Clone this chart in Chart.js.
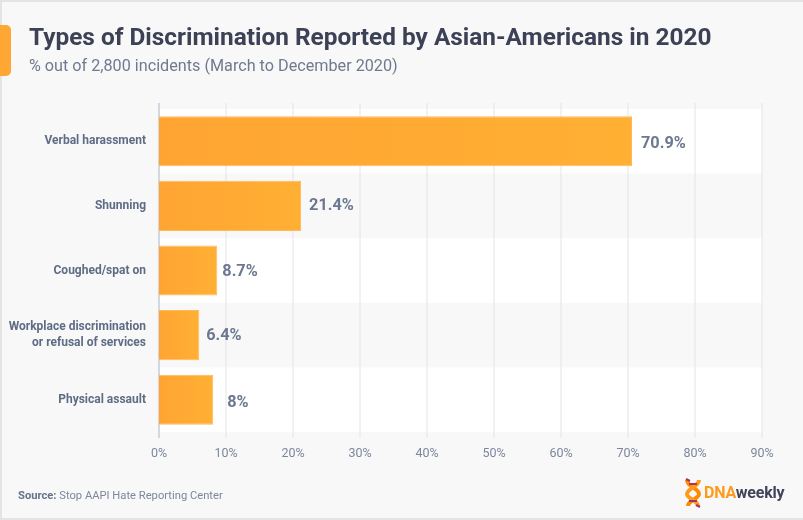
<!DOCTYPE html>
<html lang="en">
<head>
    <meta charset="UTF-8">
    <title>Types of Discrimination Reported by Asian-Americans in 2020</title>
    <style>
        html, body { margin: 0; padding: 0; }
        body { width: 803px; height: 520px; overflow: hidden; background: #f8f8f8; font-family: Roboto, sans-serif; position: relative; }
        .frame { position: absolute; left: 0; top: 0; width: 803px; height: 520px; box-sizing: border-box; border: solid #e4e4e4; border-width: 2px 0 2px 2px; pointer-events: none; }
        .tab { position: absolute; left: 0; top: 25px; width: 11px; height: 51px; background: #ffa733; border-radius: 0 5px 5px 0; }
        h1 { position: absolute; left: 29px; top: 21px; margin: 0; font-size: 24.4px; line-height: 32px; font-weight: 700; color: #3c4156; white-space: nowrap; }
        .sub { position: absolute; left: 29px; top: 56px; font-size: 16.2px; line-height: 20px; color: #6f7a90; white-space: nowrap; }
        .source { position: absolute; left: 18px; top: 488px; font-size: 11.2px; line-height: 16px; color: #7c879c; white-space: nowrap; }
        .source b { color: #67738b; }
        canvas { position: absolute; left: 0; top: 0; }
        .logo { position: absolute; left: 683px; top: 478px; width: 104px; height: 30px; }
        .logo span { position: absolute; left: 21px; top: 5px; font-size: 16px; line-height: 20px; font-weight: 700; color: #3f4459; white-space: nowrap; letter-spacing: -0.2px; }
        .logo span i { font-style: normal; color: #ff9a1a; }
    </style>
</head>
<body>
    <canvas id="chart" width="803" height="520"></canvas>
    <div class="frame"></div>
    <div class="tab"></div>
    <h1>Types of Discrimination Reported by Asian-Americans in 2020</h1>
    <div class="sub">% out of 2,800 incidents (March to December 2020)</div>
    <div class="source"><b>Source:</b> Stop AAPI Hate Reporting Center</div>
    <div class="logo">
        <svg width="20" height="30" viewBox="0 0 20 30">
            <path d="M4 2 C4 9 16 10 16 16 C16 21 5 22 5 28" fill="none" stroke="#ff8a00" stroke-width="4"/>
            <path d="M16 2 C16 9 4 10 4 16 C4 21 15 22 15 28" fill="none" stroke="#ff9a1a" stroke-width="4"/>
            <path d="M6 6 L14 6 M6 23 L14 23" stroke="#a8326a" stroke-width="2"/>
            <path d="M3 1 L7 3 M13 27 L17 29" stroke="#a8326a" stroke-width="2"/>
        </svg>
        <span><i>DNA</i>weekly</span>
    </div>
    <script src="https://cdn.jsdelivr.net/npm/chart.js"></script>
    <script>
    const categories = [
        'Verbal harassment',
        'Shunning',
        'Coughed/spat on',
        ['Workplace discrimination', 'or refusal of services'],
        'Physical assault'
    ];
    // bar lengths as drawn in the picture, the printed labels differ a little
    const barValues = [70.6, 21.2, 8.7, 6.0, 8.1];
    const valueLabels = ['70.9%', '21.4%', '8.7%', '6.4%', '8%'];
    const xTicks = [0, 10, 20, 30, 40, 50, 60, 70, 80, 90];

    // label offset from bar end / bar middle
    const labelGaps = [9, 8, 5, 7, 14];
    const labelDrops = [3, 0, 1, 1, 3];

    // white stripes and grid lines, under the bars
    const backdrop = {
        id: 'backdrop',
        beforeDatasetsDraw(chart) {
            const { ctx, chartArea, scales } = chart;
            const band = (scales.y.getPixelForValue(1) - scales.y.getPixelForValue(0));
            ctx.save();
            ctx.fillStyle = '#ffffff';
            categories.forEach((c, i) => {
                if (i % 2 === 0) {
                    ctx.fillRect(chartArea.left, scales.y.getPixelForValue(i) - band / 2, chartArea.width, band);
                }
            });
            xTicks.forEach((t) => {
                const x = scales.x.getPixelForValue(t);
                ctx.strokeStyle = t === 0 ? '#d3d8e0' : '#e4e4e4';
                ctx.lineWidth = t === 0 ? 2 : 1;
                ctx.beginPath();
                ctx.moveTo(x, chartArea.top - 6);
                ctx.lineTo(x, chartArea.bottom + 6);
                ctx.stroke();
            });
            ctx.restore();
        }
    };

    // printed value next to every bar
    const barLabels = {
        id: 'barLabels',
        afterDatasetsDraw(chart) {
            const { ctx } = chart;
            ctx.save();
            ctx.font = '700 16.3px Roboto';
            ctx.fillStyle = '#6c7890';
            ctx.textAlign = 'left';
            ctx.textBaseline = 'middle';
            chart.getDatasetMeta(0).data.forEach((bar, i) => {
                ctx.fillText(valueLabels[i], bar.x + labelGaps[i], bar.y + labelDrops[i]);
            });
            ctx.restore();
        }
    };

    function barGradient(context) {
        const { chart, dataIndex } = context;
        const x0 = chart.scales.x ? chart.scales.x.getPixelForValue(0) : NaN;
        const x1 = chart.scales.x ? chart.scales.x.getPixelForValue(barValues[dataIndex]) : NaN;
        if (!isFinite(x0) || !isFinite(x1)) return '#ffa733';
        const g = chart.ctx.createLinearGradient(x0, 0, x1, 0);
        g.addColorStop(0, '#ffa433');
        g.addColorStop(1, '#ffb033');
        return g;
    }

    new Chart(document.getElementById('chart').getContext('2d'), {
        type: 'bar',
        data: {
            labels: categories,
            datasets: [{
                data: barValues,
                backgroundColor: barGradient,
                borderColor: '#ffb958',
                borderWidth: 1,
                categoryPercentage: 1,
                barPercentage: 0.775
            }]
        },
        plugins: [backdrop, barLabels],
        options: {
            indexAxis: 'y',
            responsive: false,
            animation: false,
            layout: { padding: { top: 109, right: 41, bottom: 0, left: 0 } },
            plugins: { legend: { display: false }, tooltip: { enabled: false } },
            scales: {
                x: {
                    min: 0,
                    max: 90,
                    border: { display: false },
                    grid: { display: false },
                    afterFit(axis) { axis.height = 88; },
                    ticks: {
                        stepSize: 10,
                        padding: 6,
                        maxRotation: 0,
                        color: '#7c879c',
                        font: { family: 'Roboto', size: 12.5 },
                        callback: (v) => v + '%'
                    }
                },
                y: {
                    border: { display: false },
                    grid: { display: false },
                    afterFit(axis) { axis.width = 159; },
                    ticks: {
                        padding: 5,
                        color: '#5f6c86',
                        font: { family: 'Roboto', size: 12, weight: '700', lineHeight: 1.3 }
                    }
                }
            }
        }
    });
    </script>
</body>
</html>
